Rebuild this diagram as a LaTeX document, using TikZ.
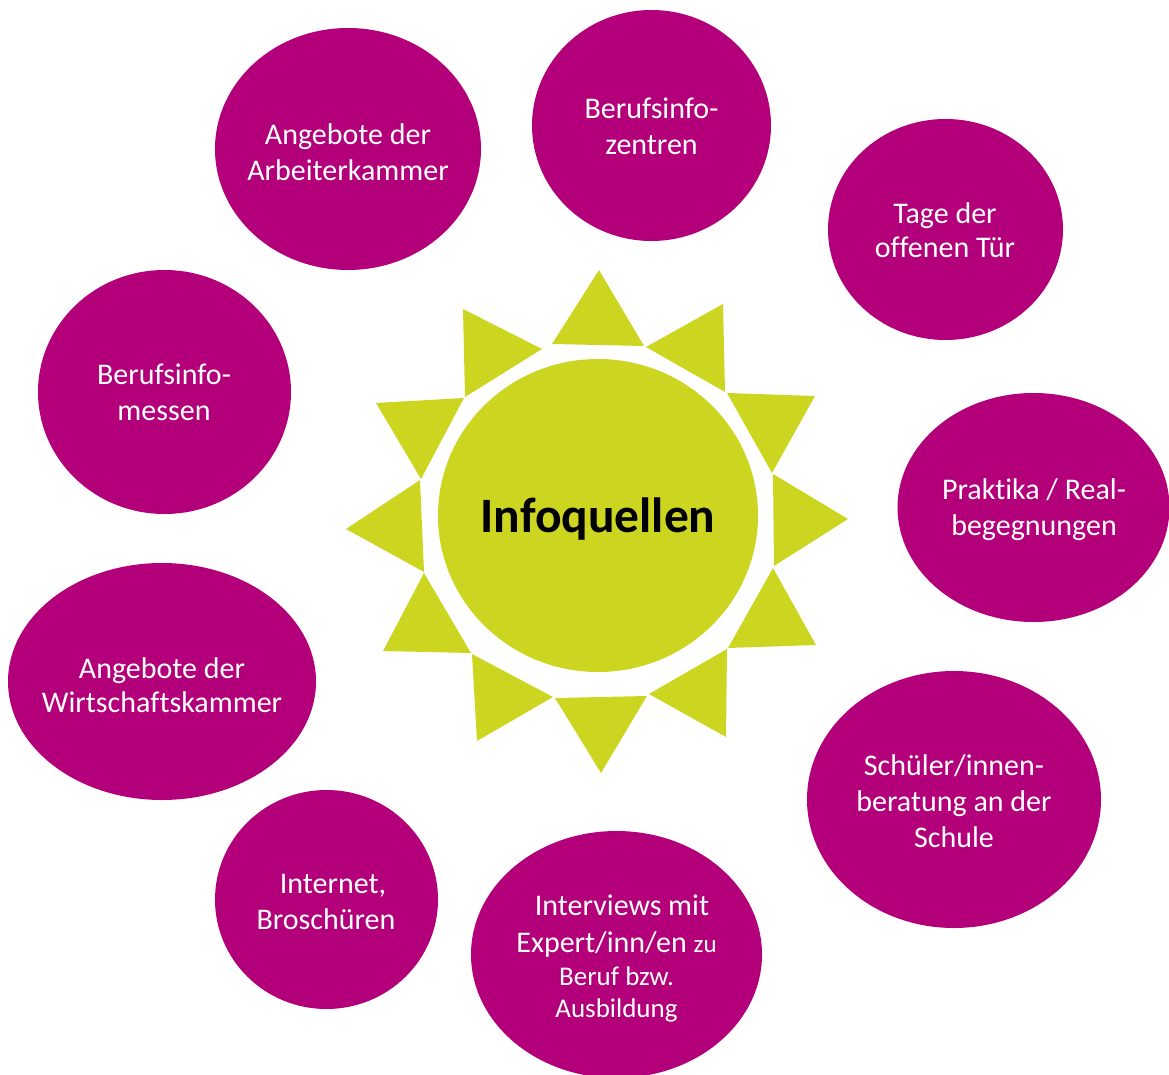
\documentclass[tikz,border=0pt]{standalone}
\usepackage{fontspec}
\setmainfont[RawFeature={-liga}]{Carlito}
\usetikzlibrary{shapes.geometric}
\definecolor{mag}{HTML}{B3007A}
\definecolor{lime}{HTML}{CCD520}
\tikzset{
  x=1pt,y=-1pt,
  bub/.style={ellipse,fill=mag,draw=none,inner sep=0pt,minimum width=#1},
  lab/.style={text=white,align=center,font=\fontsize{30}{36}\selectfont},
  ray/.style={fill=lime,draw=none},
}
\newcommand{\bubble}[8]{%
  \node[bub=#4*1pt,minimum height=#5*1pt] (#1) at (#2,#3) {};
  \node[lab] (#1t) at (#6,#7) {#8};
}
\begin{document}
\begin{tikzpicture}
\useasboundingbox (0,0) rectangle (1169,1075);
\bubble{ak}{348}{149}{266}{242}{348}{152}{Angebote der\\Arbeiterkammer}
\bubble{biz}{651.5}{125.5}{239}{231}{651.5}{126.5}{Berufsinfo-\\zentren}
\bubble{tag}{945.5}{229.5}{235}{221}{945}{230}{Tage der\\[-2pt]offenen Tür}
\bubble{pr}{1033.5}{507.5}{272}{229}{1034}{510}{Praktika / Real-\\begegnungen}
\bubble{sb}{954}{799.5}{294}{257}{954}{801}{Schüler/innen-\\beratung an der\\Schule}
\node[bub=291pt,minimum height=247pt] (iv) at (616.5,954.5) {};
\node[lab,anchor=north] (ivt) at (622,891) {Interviews mit};
\node[lab,anchor=north] (ivb) at (616.5,928) {Expert/inn/en {\fontsize{25}{30}\selectfont zu}};
\node[lab,anchor=north,font=\fontsize{27}{32}\selectfont] (ivc) at (616.5,963) {Beruf bzw.\\Ausbildung};
\bubble{in}{326.5}{899.5}{223}{219}{326}{901.5}{\hspace*{14pt}Internet,\\Broschüren}
\bubble{wk}{162}{681.5}{308}{237}{162}{685}{Angebote der\\[-2pt]Wirtschaftskammer}
\bubble{ms}{164.5}{392}{253}{244}{164}{392.5}{Berufsinfo-\\messen}
\node[ellipse,fill=lime,inner sep=0pt,minimum width=320pt,minimum height=313pt] (c) at (598,515.5) {};
\node[font=\bfseries\fontsize{49.5}{54}\selectfont,text=black] (ct) at (598,519) {Infoquellen};
\fill[ray] (599,270)--(552,344)--(644,346)--cycle;
\fill[ray] (723,304)--(646,347)--(725,392)--cycle;
\fill[ray] (815,396)--(727,393)--(772,473)--cycle;
\fill[ray] (848,519)--(773,474)--(774,566)--cycle;
\fill[ray] (816,645)--(773,568)--(728,648)--cycle;
\fill[ray] (726,737)--(649,694)--(727,649)--cycle;
\fill[ray] (601,773)--(555,698)--(647,696)--cycle;
\fill[ray] (477,741)--(472,654)--(553,697)--cycle;
\fill[ray] (383,651)--(471,653)--(424,573)--cycle;
\fill[ray] (346,529)--(420,480)--(424,572)--cycle;
\fill[ray] (376,403)--(464,398)--(421,479)--cycle;
\fill[ray] (463,309)--(542,349)--(465,397)--cycle;
\end{tikzpicture}
\end{document}
